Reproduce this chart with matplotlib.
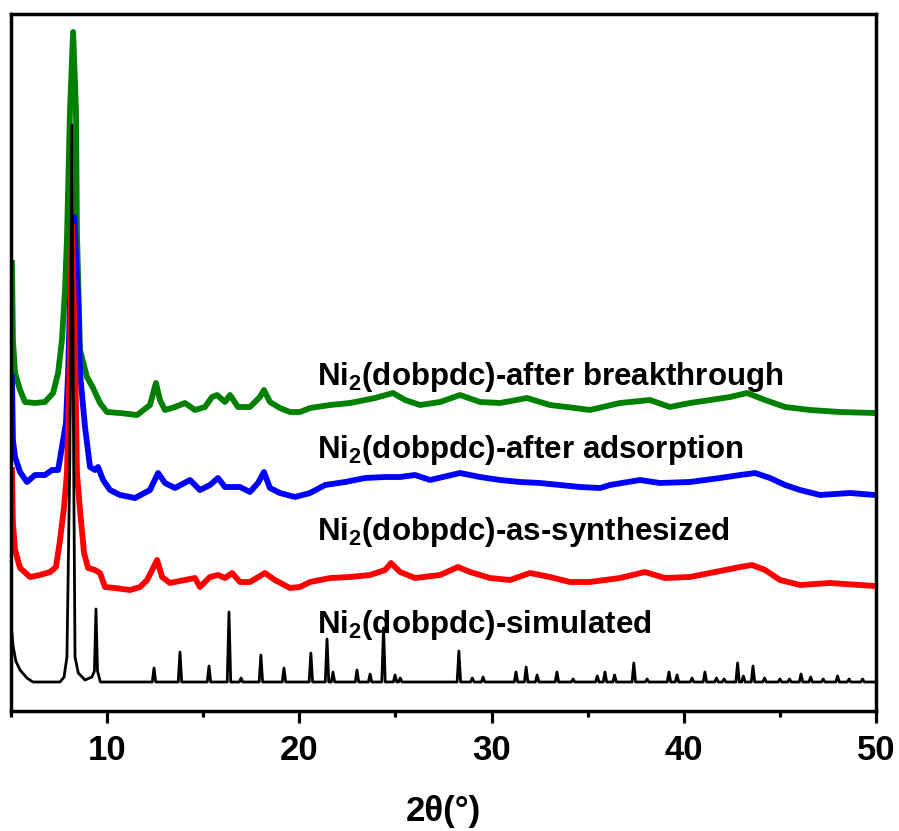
import matplotlib
matplotlib.use("Agg")
import matplotlib.pyplot as plt
import numpy as np

plt.rcParams['font.family'] = 'Liberation Sans'
plt.rcParams['font.weight'] = 'bold'
plt.rcParams['mathtext.fontset'] = 'custom'
plt.rcParams['mathtext.rm'] = 'Liberation Sans:bold'
plt.rcParams['mathtext.it'] = 'Liberation Sans:bold'
plt.rcParams['mathtext.bf'] = 'Liberation Sans:bold'

# ---- data (2theta in degrees, intensity in a.u., offset stacked) ----
green_2theta = [5.05, 5.10, 5.21, 5.47, 5.73, 6.25, 6.77, 7.19, 7.45, 7.65, 7.81, 7.91, 8.07, 8.23,
                8.38, 8.43, 8.59, 8.95, 9.27, 9.63, 9.99, 10.67, 11.56, 12.23, 12.54, 12.75, 13.01,
                13.53, 14.05, 14.57, 15.09, 15.46, 15.72, 16.13, 16.39, 16.81, 17.43, 17.95, 18.16,
                18.47, 18.99, 19.51, 20.03, 20.56, 21.60, 22.64, 23.94, 24.87, 25.50, 26.28, 27.32,
                28.36, 29.40, 30.44, 31.84, 33.04, 34.34, 35.12, 36.68, 38.24, 39.28, 40.32, 41.37,
                42.41, 43.29, 44.23, 45.27, 46.57, 48.13, 49.95]
green_int = [448, 371, 338, 321, 309, 308, 309, 318, 338, 371, 421, 471, 601, 679,
             601, 478, 361, 334, 323, 308, 299, 298, 296, 306, 328, 311, 301,
             304, 308, 301, 304, 314, 316, 309, 316, 304, 304, 314, 321,
             309, 303, 299, 299, 303, 306, 308, 313, 318, 311, 306, 309,
             316, 309, 308, 313, 306, 303, 301, 308, 311, 304, 308, 311,
             314, 318, 311, 304, 301, 299, 298]

blue_2theta = [5.05, 5.10, 5.21, 5.47, 5.83, 6.25, 6.77, 7.13, 7.45, 7.65, 7.86, 7.97, 8.07, 8.28,
               8.49, 8.59, 8.85, 9.11, 9.37, 9.53, 9.79, 10.15, 10.67, 11.45, 12.23, 12.65, 13.01,
               13.53, 14.31, 14.83, 15.35, 15.77, 16.13, 16.91, 17.43, 17.85, 18.16, 18.47, 18.99,
               19.77, 20.56, 21.34, 22.38, 23.42, 24.46, 25.24, 26.02, 26.80, 28.36, 29.40, 30.44,
               31.48, 32.52, 33.56, 34.60, 35.64, 36.16, 37.72, 38.76, 40.32, 41.89, 42.93, 43.71,
               44.49, 45.27, 46.05, 47.09, 48.65, 49.95]
blue_int = [334, 271, 254, 239, 229, 236, 236, 241, 241, 264, 288, 338, 411, 494,
            411, 338, 284, 244, 241, 244, 231, 221, 216, 213, 221, 238, 228,
            223, 231, 221, 226, 233, 224, 224, 219, 228, 239, 223, 218,
            214, 218, 226, 229, 233, 234, 234, 236, 231, 238, 234, 231,
            229, 228, 226, 224, 223, 226, 231, 228, 229, 233, 236, 238,
            233, 226, 221, 216, 218, 216]

red_2theta = [5.05, 5.10, 5.21, 5.47, 5.99, 6.51, 7.03, 7.34, 7.55, 7.76, 7.91, 8.07, 8.17, 8.33,
              8.43, 8.59, 8.80, 9.01, 9.37, 9.63, 9.89, 10.41, 11.19, 11.71, 12.08, 12.60, 12.86,
              13.27, 14.05, 14.57, 14.83, 15.35, 15.77, 16.13, 16.50, 16.91, 17.43, 18.21, 18.73,
              19.51, 20.03, 20.56, 21.60, 22.64, 23.68, 24.46, 24.77, 25.24, 26.02, 27.32, 28.25,
              28.88, 29.92, 30.96, 32.00, 33.04, 34.08, 35.12, 36.68, 37.98, 39.02, 40.32, 41.63,
              42.93, 43.55, 44.23, 45.01, 46.05, 47.61, 49.17, 49.95]
red_int = [241, 188, 161, 143, 134, 136, 139, 144, 171, 204, 238, 361, 486, 361,
           238, 201, 158, 143, 141, 138, 124, 123, 121, 124, 131, 151, 134,
           128, 131, 133, 124, 134, 136, 133, 138, 129, 129, 138, 131,
           123, 124, 129, 133, 134, 136, 141, 148, 139, 133, 136, 144,
           139, 133, 131, 138, 134, 129, 129, 133, 139, 133, 134, 139,
           144, 146, 141, 131, 126, 128, 126, 125]

# simulated pattern: low-angle part traced point by point, then the sharp reflections
sim_head_2theta = [5.05, 5.10, 5.25, 5.47, 5.83, 6.14, 7.55, 7.76, 7.91, 8.06, 8.17, 8.26,
                   8.33, 8.50, 8.85, 9.21, 9.34, 9.42, 9.50, 9.65]
sim_head_int = [78, 66, 50, 41, 33, 29, 29, 34, 54, 250, 586, 250,
                54, 38, 31, 34, 40, 102, 40, 29]
sim_peak_2theta = [12.44, 13.79, 15.30, 16.34, 16.97, 18.00, 19.20, 20.60, 21.44, 21.75, 23.00,
                   23.68, 24.38, 24.98, 25.25, 28.30, 29.00, 29.56, 31.27, 31.80, 32.37, 33.40,
                   34.24, 35.50, 35.90, 36.40, 37.40, 38.09, 39.23, 39.65, 40.43, 41.10, 41.70,
                   42.10, 42.80, 43.10, 43.60, 44.20, 45.00, 45.50, 46.10, 46.60, 47.25, 48.00,
                   48.60, 49.30]
sim_peak_int = [43, 59, 45, 99, 33, 56, 43, 58, 72, 39, 41,
                37, 83, 36, 33, 60, 33, 34, 39, 44, 36, 39,
                32, 35, 39, 36, 48, 32, 39, 36, 33, 39, 33,
                32, 48, 35, 45, 33, 32, 32, 37, 34, 32, 35,
                32, 32]
sim_base = 29

labels = [r'Ni$_2$(dobpdc)-after breakthrough',
          r'Ni$_2$(dobpdc)-after adsorption',
          r'Ni$_2$(dobpdc)-as-synthesized',
          r'Ni$_2$(dobpdc)-simulated']
label_y = [326, 253, 171, 78]

# build simulated stick profile from the listed reflections
sim_x = list(sim_head_2theta)
sim_y = list(sim_head_int)
hw = 0.09
for p, h in zip(sim_peak_2theta, sim_peak_int):
    sim_x += [p - hw, p, p + hw]
    sim_y += [sim_base, h, sim_base]
sim_x.append(50)
sim_y.append(sim_base)

fig = plt.figure(figsize=(8.99, 8.31), dpi=100)
ax = fig.add_axes([11/899, 1 - 711/831, 865/899, 697/831])

ax.plot(green_2theta, green_int, color='#008000', lw=4.2, solid_joinstyle='round')
ax.plot(blue_2theta, blue_int, color='#0000ff', lw=4.2, solid_joinstyle='round')
ax.plot(red_2theta, red_int, color='#ff0000', lw=4.2, solid_joinstyle='round')
ax.plot(sim_x, sim_y, color='black', lw=2.0)

for txt, yy in zip(labels, label_y):
    ax.text(20.92, yy, txt, fontsize=22.5, fontweight='bold', va='baseline', ha='left')

ax.set_xlim(5, 50)
ax.set_ylim(0, 697)
ax.set_yticks([])
ax.set_xticks([10, 20, 30, 40, 50])
ax.set_xticks([5, 15, 25, 35, 45], minor=True)
ax.tick_params(axis='x', which='major', direction='out', length=8.5, width=2.3,
               labelsize=25, pad=8)
ax.tick_params(axis='x', which='minor', direction='out', length=4.5, width=2.3)
for s in ax.spines.values():
    s.set_linewidth(2.5)
ax.set_xlabel('2θ(°)', fontsize=25, fontweight='bold', labelpad=20)

fig.savefig('out.png', dpi=100)
